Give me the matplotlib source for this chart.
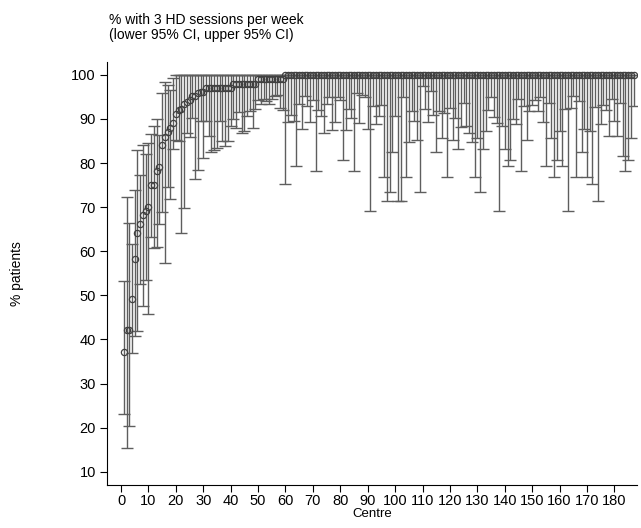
import numpy as np
import matplotlib
matplotlib.use('Agg')
import matplotlib.pyplot as plt

plt.rcParams['font.family'] = ['Liberation Sans', 'DejaVu Sans']

# Centre index (1..187)
centre = np.arange(1, 188)

# % with 3 HD sessions per week (point estimate)
estimate = [
    37.2, 42.1, 42.1, 49.1, 58.2, 64.2, 66.1, 68.2, 69.2, 70.1, 75.0, 75.0, 78.1, 79.0, 84.1, 86.0,
    87.1, 87.9, 89.2, 91.1, 92.1, 92.2, 93.3, 93.9, 94.2, 95.1, 95.1, 95.8, 96.1, 96.1, 97.0, 97.0,
    97.0, 97.0, 97.0, 97.0, 97.0, 97.0, 97.0, 97.0, 98.0, 98.0, 98.0, 98.0, 98.0, 98.0, 98.0, 98.0,
    98.0, 99.0, 99.0, 99.0, 99.0, 99.0, 99.0, 99.0, 99.0, 99.0, 99.0, 100, 100, 100, 100, 100,
    100, 100, 100, 100, 100, 100, 100, 100, 100, 100, 100, 100, 100, 100, 100, 100,
    100, 100, 100, 100, 100, 100, 100, 100, 100, 100, 100, 100, 100, 100, 100, 100,
    100, 100, 100, 100, 100, 100, 100, 100, 100, 100, 100, 100, 100, 100, 100, 100,
    100, 100, 100, 100, 100, 100, 100, 100, 100, 100, 100, 100, 100, 100, 100, 100,
    100, 100, 100, 100, 100, 100, 100, 100, 100, 100, 100, 100, 100, 100, 100, 100,
    100, 100, 100, 100, 100, 100, 100, 100, 100, 100, 100, 100, 100, 100, 100, 100,
    100, 100, 100, 100, 100, 100, 100, 100, 100, 100, 100, 100, 100, 100, 100, 100,
    100, 100, 100, 100, 100, 100, 100, 100, 100, 100, 100,
]

# lower 95% CI
lower = [
    23.1, 15.3, 20.3, 37.0, 40.8, 42.0, 52.6, 47.7, 53.5, 45.8, 63.3, 60.7, 61.0, 66.3, 69.0, 57.4,
    74.5, 71.8, 83.1, 85.2, 84.9, 64.1, 69.9, 86.9, 86.0, 90.2, 76.3, 78.4, 89.6, 81.1, 89.6, 86.2,
    82.4, 83.0, 83.4, 89.6, 85.1, 83.9, 85.0, 88.5, 90.0, 87.9, 91.5, 86.9, 87.3, 90.6, 91.8, 87.9,
    92.3, 94.3, 93.5, 94.5, 94.0, 93.3, 94.5, 95.2, 95.5, 92.6, 92.1, 75.3, 89.4, 91.0, 89.6, 79.4,
    93.3, 87.7, 95.2, 93.0, 89.4, 94.3, 78.2, 92.1, 90.6, 86.8, 93.4, 95.0, 87.4, 89.4, 94.9, 94.2,
    80.6, 87.4, 92.2, 90.2, 78.2, 96.0, 89.2, 95.5, 94.9, 87.7, 69.2, 93.0, 88.8, 90.6, 93.2, 76.9,
    71.4, 73.5, 82.4, 90.7, 71.4, 71.4, 94.9, 76.9, 84.7, 91.7, 89.6, 85.3, 73.5, 97.5, 92.2, 89.4,
    96.4, 90.9, 82.4, 91.7, 85.8, 91.3, 76.9, 92.6, 85.3, 90.2, 83.2, 88.1, 93.6, 88.4, 86.8, 84.7,
    76.9, 85.8, 73.5, 83.2, 87.3, 92.0, 94.9, 90.5, 89.2, 69.2, 88.4, 83.2, 79.4, 80.6, 90.0, 88.8,
    94.6, 78.2, 93.0, 85.3, 91.7, 93.2, 94.2, 91.7, 95.0, 89.4, 79.4, 93.7, 85.8, 76.8, 80.6, 87.3,
    79.4, 92.2, 69.2, 92.4, 95.3, 76.8, 94.0, 82.4, 87.7, 76.8, 87.3, 75.3, 92.8, 71.4, 88.8, 93.2,
    92.1, 86.2, 94.6, 89.6, 86.2, 93.7, 81.5, 78.2, 80.6, 85.8, 93.0,
]

# upper 95% CI
upper = [
    53.3, 72.4, 66.5, 61.6, 73.8, 83.0, 77.3, 84.1, 82.1, 84.6, 86.6, 88.3, 90.0, 86.4, 95.8, 98.3,
    97.7, 96.6, 99.2, 100, 100, 100, 100, 100, 100, 100, 100, 100, 100, 100, 100, 100,
    100, 100, 100, 100, 100, 100, 100, 100, 100, 100, 100, 100, 100, 100, 100, 100,
    100, 100, 100, 100, 100, 100, 100, 100, 100, 100, 100, 100, 100, 100, 100, 100,
    100, 100, 100, 100, 100, 100, 100, 100, 100, 100, 100, 100, 100, 100, 100, 100,
    100, 100, 100, 100, 100, 100, 100, 100, 100, 100, 100, 100, 100, 100, 100, 100,
    100, 100, 100, 100, 100, 100, 100, 100, 100, 100, 100, 100, 100, 100, 100, 100,
    100, 100, 100, 100, 100, 100, 100, 100, 100, 100, 100, 100, 100, 100, 100, 100,
    100, 100, 100, 100, 100, 100, 100, 100, 100, 100, 100, 100, 100, 100, 100, 100,
    100, 100, 100, 100, 100, 100, 100, 100, 100, 100, 100, 100, 100, 100, 100, 100,
    100, 100, 100, 100, 100, 100, 100, 100, 100, 100, 100, 100, 100, 100, 100, 100,
    100, 100, 100, 100, 100, 100, 100, 100, 100, 100, 100,
]

x_ticks = list(range(0, 181, 10))
y_ticks = list(range(10, 101, 10))

est = np.array(estimate)
lo = np.array(lower)
hi = np.array(upper)

fig = plt.figure(figsize=(6.41, 5.28), dpi=100)
ax = fig.add_axes([0.167, 0.0814, 0.827, 0.801])

# whiskers grey, caps black
eb = ax.errorbar(centre, est, yerr=[est - lo, hi - est], fmt='none',
                 ecolor='#5e5e5e', elinewidth=1.0, capsize=4.0, capthick=1.0, zorder=2)
for cap in eb[1]:
    cap.set_color('#111111')
ax.plot(centre, est, 'o', ms=4.5, mfc='none', mec='#404040', mew=0.9, zorder=3)

ax.set_xlim(-5.1, 188.3)
ax.set_ylim(7.0, 102.9)
ax.set_xticks(x_ticks)
ax.set_yticks(y_ticks)
ax.spines['top'].set_visible(False)
ax.spines['right'].set_visible(False)
ax.tick_params(axis='both', labelsize=10.5, length=5, width=0.8)
ax.tick_params(axis='x', pad=1.5)
ax.tick_params(axis='y', pad=3)
ax.set_xlabel('Centre', fontsize=9.5, labelpad=0)
ax.set_ylabel('% patients', fontsize=10, labelpad=34)

fig.text(0.170, 0.948, '% with 3 HD sessions per week\n(lower 95% CI, upper 95% CI)',
         fontsize=10, ha='left', va='center', linespacing=1.05)

fig.savefig('out.png', dpi=100)
